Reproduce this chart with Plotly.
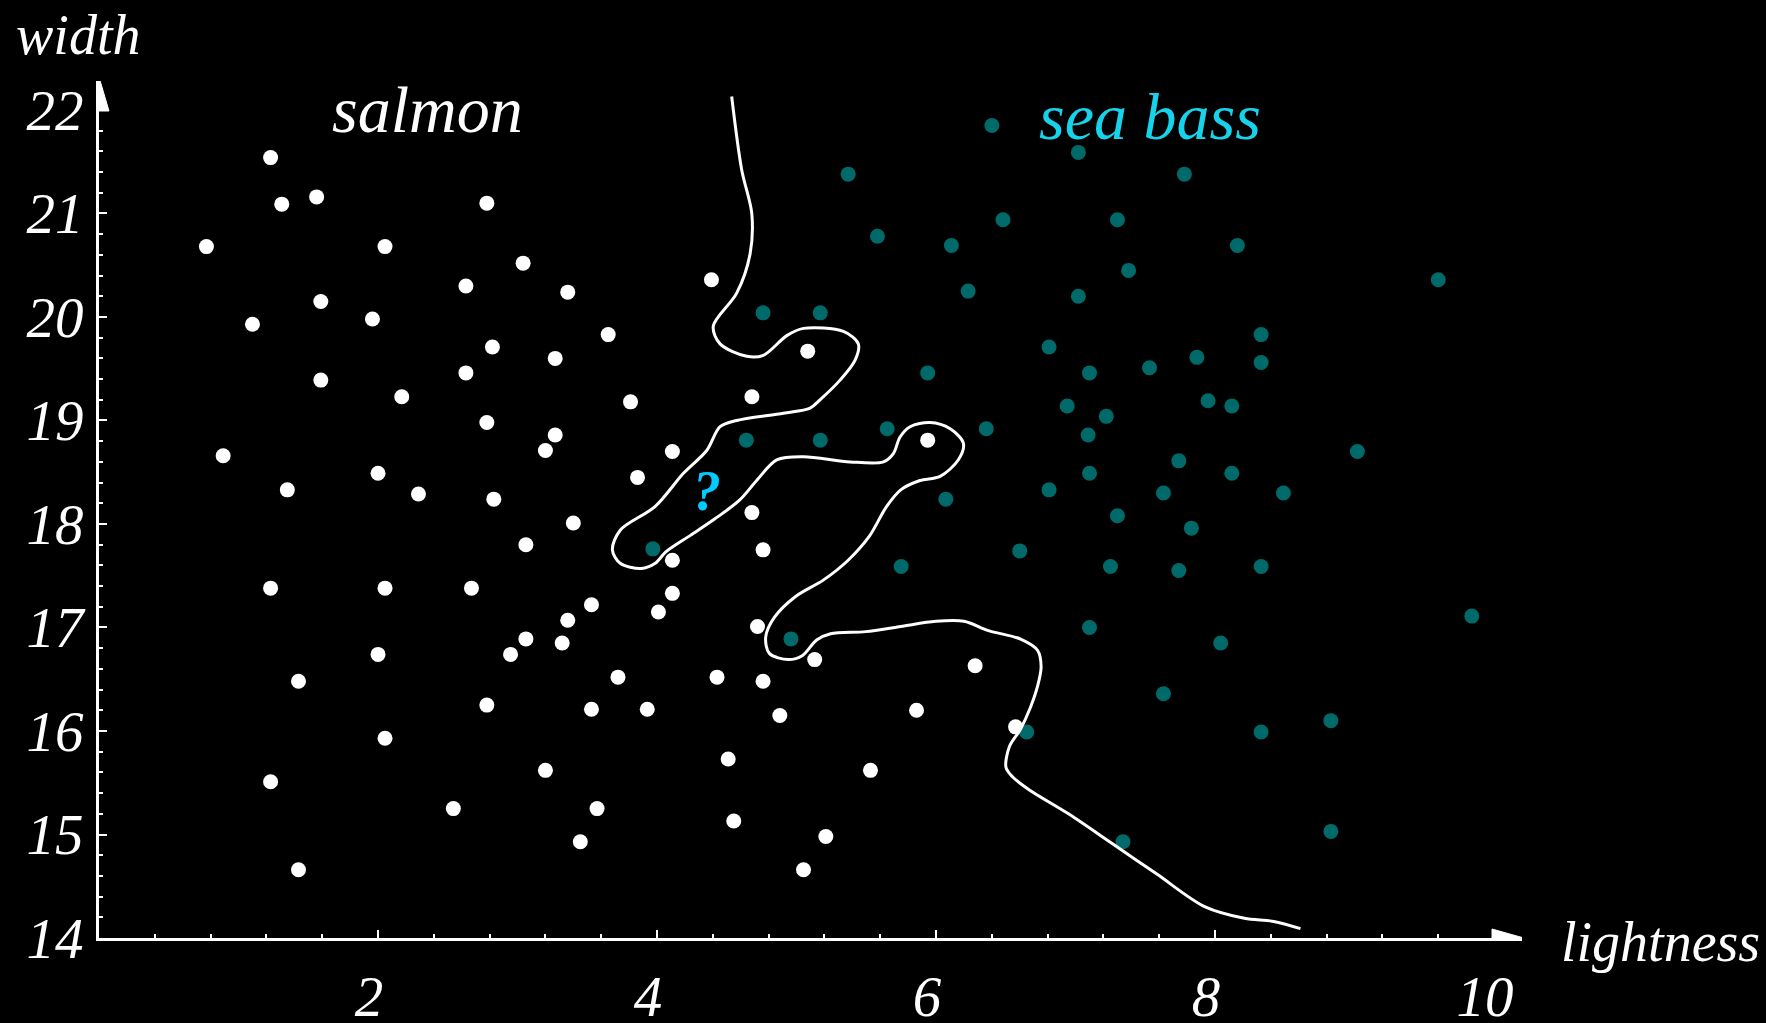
import plotly.graph_objects as go

# ---------------- data ----------------
salmon_lightness = [
    1.23, 1.31, 1.56, 0.77, 2.05, 2.78, 3.04, 3.36, 2.63, 1.59,
    1.10, 1.96, 3.65, 4.39, 2.82, 1.59, 2.63, 3.27, 5.08, 2.17,
    3.81, 4.68, 2.78, 3.27, 3.20, 0.89, 4.11, 1.35, 2.00, 2.29,
    2.83, 3.86, 3.40, 4.68, 3.06, 4.76, 4.11, 1.23, 2.05, 2.67,
    3.53, 4.11, 3.36, 4.01, 4.72, 2.00, 3.06, 2.95, 3.32, 5.13,
    3.72, 4.43, 4.76, 1.43, 6.28, 2.78, 3.53, 3.93, 4.88, 5.86,
    2.05, 3.20, 4.51, 5.53, 1.23, 2.54, 3.57, 4.55, 3.45, 5.21,
    1.43, 5.05, 5.94, 6.57]
salmon_width = [
    21.54, 21.09, 21.16, 20.68, 20.68, 21.10, 20.52, 20.24, 20.30, 20.15,
    19.93, 19.98, 19.83, 20.36, 19.71, 19.39, 19.46, 19.60, 19.67, 19.23,
    19.18, 19.23, 18.98, 18.86, 18.71, 18.66, 18.70, 18.33, 18.49, 18.29,
    18.24, 18.45, 18.01, 18.11, 17.80, 17.75, 17.65, 17.38, 17.38, 17.38,
    17.22, 17.33, 17.07, 17.15, 17.01, 16.74, 16.89, 16.74, 16.85, 16.69,
    16.52, 16.52, 16.48, 16.48, 16.63, 16.25, 16.21, 16.21, 16.15, 16.20,
    15.93, 15.62, 15.73, 15.62, 15.51, 15.25, 15.25, 15.13, 14.93, 14.98,
    14.66, 14.66, 18.81, 16.04]

seabass_lightness = [
    6.40, 7.02, 7.78, 5.37, 6.48, 7.30, 5.58, 6.11, 8.16, 7.38,
    9.60, 6.23, 7.02, 4.76, 5.17, 8.33, 6.81, 7.87, 8.33, 5.94,
    7.10, 7.53, 7.95, 8.12, 6.94, 7.22, 7.09, 5.65, 6.36, 4.64,
    5.17, 9.02, 7.74, 7.10, 8.12, 6.81, 7.63, 8.49, 6.07, 7.30,
    7.83, 3.97, 6.60, 5.75, 7.25, 7.74, 8.33, 9.84, 7.10, 4.96,
    8.04, 7.63, 8.83, 6.65, 8.33, 8.83, 7.34]
seabass_width = [
    21.85, 21.59, 21.38, 21.38, 20.94, 20.94, 20.78, 20.69, 20.69, 20.45,
    20.36, 20.25, 20.20, 20.04, 20.04, 19.83, 19.71, 19.61, 19.56, 19.46,
    19.46, 19.51, 19.19, 19.14, 19.14, 19.04, 18.86, 18.92, 18.92, 18.81,
    18.81, 18.70, 18.61, 18.49, 18.49, 18.33, 18.30, 18.30, 18.24, 18.08,
    17.96, 17.76, 17.74, 17.59, 17.59, 17.55, 17.59, 17.11, 17.00, 16.89,
    16.85, 16.36, 16.10, 15.99, 15.99, 15.03, 14.93]

boundary_lightness = [
    4.535, 4.607, 4.679, 4.667, 4.571, 4.403, 4.452, 4.643, 4.762, 4.930,
    5.049, 5.336, 5.443, 5.419, 5.312, 5.168, 5.097, 4.906, 4.571, 4.452,
    4.356, 4.189, 3.987, 3.736, 3.680, 3.736, 3.887, 3.987, 4.063, 4.239,
    4.415, 4.591, 4.714, 4.858, 5.049, 5.384, 5.623, 5.694, 5.742, 5.814,
    5.957, 6.101, 6.196, 6.160, 6.029, 5.885, 5.747, 5.646, 5.521, 5.370,
    5.194, 4.993, 4.842, 4.779, 4.805, 4.942, 5.043, 5.144, 5.244, 5.496,
    5.747, 5.998, 6.200, 6.376, 6.602, 6.727, 6.753, 6.727, 6.677, 6.602,
    6.526, 6.501, 6.546, 6.669, 6.949, 7.265, 7.580, 7.929, 8.210, 8.420,
    8.612]
boundary_width = [
    22.13, 21.42, 21.00, 20.61, 20.23, 19.91, 19.74, 19.62, 19.63, 19.82,
    19.89, 19.86, 19.74, 19.58, 19.39, 19.20, 19.12, 19.07, 19.00, 18.94,
    18.71, 18.49, 18.17, 17.94, 17.75, 17.62, 17.57, 17.62, 17.73, 17.89,
    18.05, 18.23, 18.42, 18.62, 18.65, 18.60, 18.60, 18.68, 18.84, 18.94,
    18.98, 18.92, 18.78, 18.62, 18.46, 18.42, 18.33, 18.17, 17.88, 17.65,
    17.46, 17.30, 17.10, 16.91, 16.75, 16.69, 16.73, 16.88, 16.94, 16.96,
    17.01, 17.06, 17.06, 16.97, 16.89, 16.78, 16.62, 16.43, 16.23, 16.01,
    15.85, 15.65, 15.56, 15.43, 15.20, 14.91, 14.62, 14.30, 14.19, 14.16,
    14.09]

x_tick_vals = [2, 4, 6, 8, 10]
x_tick_labels = ["2", "4", "6", "8", "10"]
y_tick_vals = [14, 15, 16, 17, 18, 19, 20, 21, 22]
y_tick_labels = ["14", "15", "16", "17", "18", "19", "20", "21", "22"]

x_axis_label = "lightness"
y_axis_label = "width"
class_labels = ["salmon", "sea bass"]

# ---------------- styling ----------------
SERIF = "Liberation Serif, Times New Roman, DejaVu Serif, serif"
WHITE = "#ffffff"
TEAL = "#006a6a"
CYAN = "#16d2ea"
QCYAN = "#00ccff"

X_RANGE = [0, 10.2]
Y_RANGE = [14, 22.28]

fig = go.Figure()

fig.add_trace(go.Scatter(
    x=salmon_lightness, y=salmon_width, mode="markers",
    marker=dict(color=WHITE, size=15, line=dict(width=0)),
    name=class_labels[0], showlegend=False, hoverinfo="skip"))

fig.add_trace(go.Scatter(
    x=seabass_lightness, y=seabass_width, mode="markers",
    marker=dict(color=TEAL, size=15, line=dict(width=0)),
    name=class_labels[1], showlegend=False, hoverinfo="skip"))

fig.add_trace(go.Scatter(
    x=boundary_lightness, y=boundary_width, mode="lines",
    line=dict(color=WHITE, width=3, shape="spline", smoothing=0.9),
    showlegend=False, hoverinfo="skip"))

tickfont = dict(family=SERIF, size=57, color=WHITE, style="italic")

fig.update_xaxes(
    range=X_RANGE, showgrid=False, zeroline=False, automargin=False,
    showline=True, linecolor=WHITE, linewidth=3,
    tickmode="array", tickvals=x_tick_vals, ticktext=x_tick_labels,
    ticks="inside", ticklen=8, tickwidth=2, tickcolor=WHITE,
    tickfont=tickfont, ticklabelstandoff=7, ticklabelshift=-9,
    minor=dict(tick0=0, dtick=0.4, ticks="inside", ticklen=4,
               tickwidth=2, tickcolor=WHITE, showgrid=False),
)
fig.update_yaxes(
    range=Y_RANGE, showgrid=False, zeroline=False, automargin=False,
    showline=True, linecolor=WHITE, linewidth=3,
    tickmode="array", tickvals=y_tick_vals, ticktext=y_tick_labels,
    ticks="inside", ticklen=8, tickwidth=2, tickcolor=WHITE,
    tickfont=tickfont, ticklabelstandoff=1,
    minor=dict(tick0=14, dtick=0.2, ticks="inside", ticklen=4,
               tickwidth=2, tickcolor=WHITE, showgrid=False),
)

# axis arrowheads
fig.add_shape(type="path", xref="x", yref="y", xsizemode="pixel", ysizemode="pixel",
              xanchor=X_RANGE[1], yanchor=Y_RANGE[0],
              path="M -30,9 L 2,0 L -30,-9 Z",
              fillcolor=WHITE, line=dict(color=WHITE, width=1), layer="above")
fig.add_shape(type="path", xref="x", yref="y", xsizemode="pixel", ysizemode="pixel",
              xanchor=X_RANGE[0], yanchor=Y_RANGE[1],
              path="M -10,-30 L 0,4 L 10,-30 Z",
              fillcolor=WHITE, line=dict(color=WHITE, width=1), layer="above")

def to_paper(x, y):
    return ((x - X_RANGE[0]) / (X_RANGE[1] - X_RANGE[0]),
            (y - Y_RANGE[0]) / (Y_RANGE[1] - Y_RANGE[0]))

def txt(s, x, y, size, color, bold=False):
    px, py = to_paper(x, y)
    fig.add_annotation(
        text=s, x=px, y=py, xref="paper", yref="paper", showarrow=False,
        xanchor="center", yanchor="middle",
        font=dict(family=SERIF, size=size, color=color, style="italic",
                  weight="bold" if bold else "normal"))

txt(y_axis_label, -0.147, 22.72, 56, WHITE)
txt(x_axis_label, 11.19, 13.96, 56, WHITE)
txt(class_labels[0], 2.355, 22.0, 66, WHITE)
txt(class_labels[1], 7.534, 21.94, 66, CYAN)
txt("?", 4.358, 18.32, 56, QCYAN, bold=True)

fig.update_layout(
    width=1766, height=1023,
    margin=dict(l=99, r=244, t=81, b=85, pad=0),
    paper_bgcolor="black", plot_bgcolor="black",
    showlegend=False,
)

fig.write_html("out.html", config={"displayModeBar": False},
               post_script="document.body.style.margin='0';document.body.style.overflow='hidden';")
